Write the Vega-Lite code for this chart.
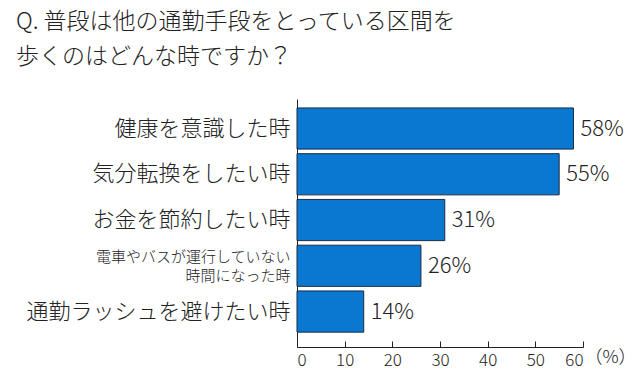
{
  "$schema": "https://vega.github.io/schema/vega-lite/v6.json",
  "width": 286,
  "height": 248,
  "autosize": {"type": "none"},
  "padding": {"left": 297, "top": 99, "right": 57, "bottom": 28},
  "background": "white",
  "config": {
    "font": "Noto Sans CJK JP",
    "view": {"stroke": null}
  },
  "title": {
    "text": ["Q. 普段は他の通勤手段をとっている区間を", "歩くのはどんな時ですか？"],
    "anchor": "start",
    "fontSize": 23,
    "fontWeight": 300,
    "color": "#222222",
    "lineHeight": 35,
    "offset": 30,
    "dx": -10
  },
  "data": {
    "values": [
      {"reason": "健康を意識した時", "pct": 58},
      {"reason": "気分転換をしたい時", "pct": 55},
      {"reason": "お金を節約したい時", "pct": 31},
      {"reason": "電車やバスが運行していない時間になった時", "pct": 26},
      {"reason": "通勤ラッシュを避けたい時", "pct": 14}
    ]
  },
  "transform": [{"calculate": "datum.pct + '%'", "as": "label"}],
  "encoding": {
    "y": {
      "field": "reason",
      "type": "nominal",
      "sort": null,
      "scale": {"paddingInner": 0.1, "paddingOuter": 0.26, "align": 0.375},
      "axis": {
        "title": null,
        "ticks": false,
        "domain": true,
        "domainColor": "#222222",
        "labelPadding": 7,
        "labelColor": "#222222",
        "labelFontWeight": 300,
        "labelLimit": 300,
        "labelLineHeight": 19,
        "labelFontSize": {
          "condition": {"test": "datum.value === '電車やバスが運行していない時間になった時'", "value": 15},
          "value": 22
        },
        "labelOffset": {
          "condition": {"test": "datum.value === '電車やバスが運行していない時間になった時'", "value": -9},
          "value": 0
        },
        "labelExpr": "datum.value === '電車やバスが運行していない時間になった時' ? ['電車やバスが運行していない', '時間になった時'] : datum.value"
      }
    },
    "x": {
      "field": "pct",
      "type": "quantitative",
      "scale": {"domain": [0, 60], "nice": false},
      "axis": {
        "values": [0, 10, 20, 30, 40, 50, 60],
        "grid": false,
        "domainColor": "#222222",
        "tickColor": "#222222",
        "tickSize": -6,
        "labelPadding": 11,
        "labelFontSize": 17,
        "labelFontWeight": 300,
        "labelColor": "#222222",
        "title": "（%）",
        "titleFontSize": 18,
        "titleFontWeight": 300,
        "titleColor": "#222222",
        "titleX": 313,
        "titleY": 10,
        "titleAlign": "center",
        "titleBaseline": "middle"
      }
    }
  },
  "layer": [
    {"mark": {"type": "bar", "fill": "#0a78d0", "stroke": "#1b2b45", "strokeWidth": 1}},
    {
      "mark": {"type": "text", "align": "left", "baseline": "middle", "dx": 7, "fontSize": 22, "fontWeight": 300, "color": "#222222"},
      "encoding": {"text": {"field": "label"}}
    }
  ]
}
